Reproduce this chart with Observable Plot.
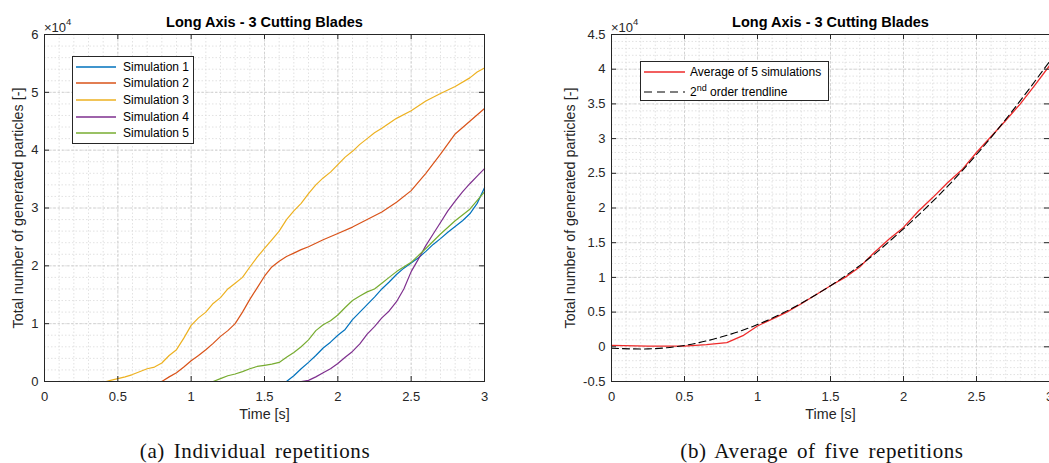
<!DOCTYPE html>
<html><head><meta charset="utf-8">
<script src="https://cdn.jsdelivr.net/npm/d3@7"></script>
<script src="https://cdn.jsdelivr.net/npm/@observablehq/plot@0.6"></script>
<style>
body{margin:0;background:#fff;}
#fig{position:relative;width:1049px;height:463px;overflow:hidden;font-family:Arial,"Liberation Sans",Helvetica,sans-serif;background:#fff;}
.panel{position:absolute;top:0;}
.exp{position:absolute;font-size:13px;color:#262626;line-height:13px;white-space:nowrap;}
.exp sup{font-size:9.5px;position:relative;top:-2px;vertical-align:super;line-height:0;}
.legend{position:absolute;background:#fff;border:1px solid #262626;box-sizing:border-box;font-size:12px;color:#000;}
.row{position:absolute;left:0;height:16px;white-space:nowrap;}
.row svg{position:absolute;top:0;}
.row span{position:absolute;top:0;line-height:16px;}
.row sup{font-size:9px;vertical-align:5px;line-height:0;}
.caption{position:absolute;top:441px;line-height:21px;font-family:"Liberation Serif","Times New Roman",serif;font-size:21px;letter-spacing:0.6px;word-spacing:3px;color:#111;white-space:nowrap;transform:translateX(-50%);}
</style></head>
<body><div id="fig"></div>
<script>
// ---------- data (values in units of x10^4 particles) ----------
const seriesNames = ["Simulation 1","Simulation 2","Simulation 3","Simulation 4","Simulation 5"];
const seriesColors = ["#0072BD","#D95319","#EDB120","#7E2F8E","#77AC30"];
const sim1 = [[0,0],[1.65,0],[1.7,0.1],[1.75,0.22],[1.8,0.33],[1.85,0.45],[1.9,0.58],[1.95,0.68],[2.0,0.8],[2.05,0.9],[2.1,1.07],[2.15,1.2],[2.2,1.33],[2.25,1.46],[2.3,1.6],[2.35,1.72],[2.4,1.85],[2.45,1.96],[2.5,2.05],[2.55,2.14],[2.6,2.25],[2.65,2.37],[2.7,2.47],[2.75,2.58],[2.8,2.68],[2.85,2.78],[2.9,2.9],[2.95,3.08],[3.0,3.35]];
const sim2 = [[0,0],[0.8,0],[0.85,0.08],[0.9,0.15],[0.95,0.25],[1.0,0.36],[1.05,0.45],[1.1,0.55],[1.15,0.66],[1.2,0.78],[1.25,0.88],[1.3,1.0],[1.35,1.2],[1.4,1.42],[1.45,1.62],[1.5,1.82],[1.55,1.98],[1.6,2.08],[1.65,2.16],[1.7,2.22],[1.75,2.28],[1.8,2.33],[1.9,2.45],[2.0,2.56],[2.1,2.67],[2.2,2.8],[2.3,2.93],[2.4,3.1],[2.5,3.3],[2.6,3.6],[2.7,3.93],[2.8,4.28],[2.9,4.5],[3.0,4.72]];
const sim3 = [[0,0],[0.42,0],[0.45,0.02],[0.5,0.05],[0.55,0.08],[0.6,0.12],[0.7,0.22],[0.75,0.25],[0.8,0.32],[0.85,0.45],[0.9,0.55],[0.95,0.75],[1.0,0.97],[1.05,1.1],[1.1,1.2],[1.15,1.35],[1.2,1.45],[1.25,1.6],[1.3,1.7],[1.35,1.8],[1.4,1.98],[1.45,2.15],[1.5,2.3],[1.55,2.45],[1.6,2.6],[1.65,2.8],[1.7,2.95],[1.75,3.08],[1.8,3.25],[1.85,3.4],[1.9,3.52],[1.95,3.62],[2.0,3.75],[2.05,3.88],[2.1,3.98],[2.15,4.1],[2.2,4.2],[2.25,4.3],[2.3,4.38],[2.4,4.55],[2.5,4.68],[2.6,4.85],[2.7,4.98],[2.8,5.1],[2.9,5.25],[2.95,5.35],[3.0,5.42]];
const sim4 = [[0,0],[1.75,0],[1.8,0.02],[1.85,0.08],[1.9,0.15],[1.95,0.22],[2.0,0.31],[2.05,0.42],[2.1,0.52],[2.15,0.65],[2.2,0.82],[2.25,0.95],[2.3,1.1],[2.35,1.22],[2.4,1.38],[2.45,1.6],[2.5,1.9],[2.55,2.12],[2.6,2.35],[2.65,2.55],[2.7,2.75],[2.75,2.95],[2.8,3.12],[2.85,3.28],[2.9,3.42],[2.95,3.55],[3.0,3.68]];
const sim5 = [[0,0],[1.15,0],[1.2,0.05],[1.25,0.1],[1.3,0.13],[1.35,0.17],[1.4,0.22],[1.45,0.26],[1.5,0.28],[1.55,0.3],[1.6,0.33],[1.65,0.42],[1.7,0.5],[1.75,0.6],[1.8,0.72],[1.85,0.88],[1.9,0.98],[1.95,1.05],[2.0,1.15],[2.05,1.28],[2.1,1.4],[2.15,1.48],[2.2,1.55],[2.25,1.6],[2.3,1.7],[2.35,1.8],[2.4,1.9],[2.5,2.06],[2.6,2.3],[2.7,2.55],[2.8,2.78],[2.9,2.98],[3.0,3.28]];
const averageSim = [[0,0.02],[0.25,0.01],[0.5,0.01],[0.65,0.03],[0.79,0.06],[0.9,0.16],[1.0,0.3],[1.1,0.4],[1.2,0.5],[1.3,0.62],[1.4,0.75],[1.5,0.88],[1.6,1.0],[1.7,1.15],[1.8,1.36],[1.9,1.55],[2.0,1.72],[2.1,1.95],[2.2,2.15],[2.3,2.36],[2.4,2.55],[2.5,2.8],[2.6,3.03],[2.7,3.26],[2.8,3.5],[2.9,3.77],[3.0,4.05]];
const trendline = [[0,-0.02],[0.25,-0.03],[0.5,0.02],[0.75,0.14],[1.0,0.32],[1.25,0.57],[1.5,0.88],[1.75,1.25],[2.0,1.7],[2.25,2.2],[2.5,2.77],[2.75,3.41],[3.0,4.11]];

const xTicks = [0,0.5,1,1.5,2,2.5,3];
const xTickLabels = ["0","0.5","1","1.5","2","2.5","3"];
const yTicksA = [0,1,2,3,4,5,6];
const yTickLabelsA = ["0","1","2","3","4","5","6"];
const yTicksB = [-0.5,0,0.5,1,1.5,2,2.5,3,3.5,4,4.5];
const yTickLabelsB = ["-0.5","0","0.5","1","1.5","2","2.5","3","3.5","4","4.5"];

const titleText = "Long Axis - 3 Cutting Blades";
const yLabelText = "Total number of generated particles [-]";
const xLabelText = "Time [s]";
const captionA = "(a) Individual repetitions";
const captionB = "(b) Average of five repetitions";

// ---------- helpers ----------
const toRows = arr => arr.map(([t, v]) => ({t, v}));
const AX = "#262626";
const FONT = "Arial, 'Liberation Sans', Helvetica, sans-serif";

function panel({width, marginLeft, marginRight, yDomain, yTicks, yLabels, yMinorStep, lineMarks, ylabelDx}) {
  const marginTop = 34, marginBottom = 82, height = 463;
  const plotW = width - marginLeft - marginRight;
  const plotH = height - marginTop - marginBottom;
  const xMinor = d3.range(0, 31).map(i => +(i * 0.1).toFixed(2));
  const nY = Math.round((yDomain[1] - yDomain[0]) / yMinorStep);
  const yMinor = d3.range(0, nY + 1).map(i => +(yDomain[0] + i * yMinorStep).toFixed(3));
  return Plot.plot({
    width, height, marginTop, marginBottom, marginLeft, marginRight,
    style: {fontFamily: FONT, fontSize: "13px", background: "transparent", overflow: "visible"},
    x: {domain: [0, 3]},
    y: {domain: yDomain},
    marks: [
      Plot.ruleX(xMinor, {stroke: "#dadada", strokeDasharray: "1.5,2", strokeWidth: 0.8}),
      Plot.ruleY(yMinor, {stroke: "#dadada", strokeDasharray: "1.5,2", strokeWidth: 0.8}),
      Plot.ruleX(xTicks, {stroke: "#cfcfcf", strokeDasharray: "2.5,2", strokeWidth: 0.9}),
      Plot.ruleY(yTicks, {stroke: "#cfcfcf", strokeDasharray: "2.5,2", strokeWidth: 0.9}),
      ...lineMarks,
      Plot.frame({stroke: AX, strokeWidth: 1}),
      Plot.ruleX(xTicks, {stroke: AX, insetTop: plotH - 5}),
      Plot.ruleX(xTicks, {stroke: AX, insetBottom: plotH - 5}),
      Plot.ruleY(yTicks, {stroke: AX, insetRight: plotW - 5}),
      Plot.ruleY(yTicks, {stroke: AX, insetLeft: plotW - 5}),
      Plot.axisX({ticks: xTicks, tickFormat: d => xTickLabels[xTicks.indexOf(d)], tickSize: 0, tickPadding: 10, label: null, color: AX, fontSize: 13}),
      Plot.axisY({ticks: yTicks, tickFormat: d => yLabels[yTicks.indexOf(d)], tickSize: 0, tickPadding: 6, label: null, color: AX, fontSize: 13}),
      Plot.text([titleText], {text: d => d, frameAnchor: "top", lineAnchor: "middle", textAnchor: "middle", dy: -12, fontWeight: "bold", fontSize: 14.5, fill: "#000"}),
      Plot.text([yLabelText], {text: d => d, frameAnchor: "left", lineAnchor: "middle", textAnchor: "middle", rotate: -90, dx: ylabelDx, fontSize: 14.3, fill: AX}),
      Plot.text([xLabelText], {text: d => d, frameAnchor: "bottom", lineAnchor: "middle", textAnchor: "middle", dy: 33, fontSize: 14.3, fill: AX})
    ]
  });
}

const sims = [sim1, sim2, sim3, sim4, sim5];
const left = panel({
  width: 540, marginLeft: 44, marginRight: 56,
  yDomain: [0, 6], yTicks: yTicksA, yLabels: yTickLabelsA, yMinorStep: 0.2,
  ylabelDx: -26,
  lineMarks: sims.map((s, i) => Plot.line(toRows(s), {x: "t", y: "v", stroke: seriesColors[i], strokeWidth: 1.2}))
});
const right = panel({
  width: 509, marginLeft: 71, marginRight: 0,
  yDomain: [-0.5, 4.5], yTicks: yTicksB, yLabels: yTickLabelsB, yMinorStep: 0.1,
  ylabelDx: -41,
  lineMarks: [
    Plot.line(toRows(averageSim), {x: "t", y: "v", stroke: "#ee2a2a", strokeWidth: 1.3}),
    Plot.line(toRows(trendline), {x: "t", y: "v", stroke: "#000", strokeWidth: 1.1, strokeDasharray: "7,4", curve: "natural"})
  ]
});

const fig = document.getElementById("fig");
left.classList.add("panel"); left.style.left = "0px";
right.classList.add("panel"); right.style.left = "540px";
fig.appendChild(left); fig.appendChild(right);

function addExp(x) {
  const d = document.createElement("div");
  d.className = "exp"; d.style.left = x + "px"; d.style.top = "21px";
  d.innerHTML = "\u00d710<sup>4</sup>";
  fig.appendChild(d);
}
addExp(44); addExp(611);

function addCaption(text, cx) {
  const d = document.createElement("div");
  d.className = "caption"; d.style.left = cx + "px";
  d.textContent = text;
  fig.appendChild(d);
}
addCaption(captionA, 255);
addCaption(captionB, 822);

function addLegend(box, items) {
  const lg = document.createElement("div");
  lg.className = "legend";
  Object.assign(lg.style, {left: box.x + "px", top: box.y + "px", width: box.w + "px", height: box.h + "px"});
  items.forEach((it, i) => {
    const r = document.createElement("div");
    r.className = "row";
    r.style.top = (box.first + i * box.step - 8 - 1) + "px";
    const dash = it.dash ? `stroke-dasharray="${it.dash}"` : "";
    r.innerHTML = `<svg width="${box.lineX + box.lineW + 2}" height="16"><line x1="${box.lineX}" x2="${box.lineX + box.lineW}" y1="8" y2="8" stroke="${it.color}" stroke-width="${it.sw}" ${dash}/></svg><span style="left:${box.textX}px">${it.label}</span>`;
    lg.appendChild(r);
  });
  fig.appendChild(lg);
}
addLegend({x: 72, y: 56, w: 122, h: 88, first: 10.7, step: 16.67, lineX: 3, lineW: 40, textX: 50},
  seriesNames.map((n, i) => ({label: n, color: seriesColors[i], sw: 1.3})));
addLegend({x: 640, y: 61, w: 189, h: 40, first: 10.5, step: 20, lineX: 3, lineW: 41, textX: 49},
  [{label: "Average of 5 simulations", color: "#ee2a2a", sw: 1.3},
   {label: "2<sup>nd</sup> order trendline", color: "#000", sw: 1.1, dash: "8,5"}]);
</script>
</body></html>
